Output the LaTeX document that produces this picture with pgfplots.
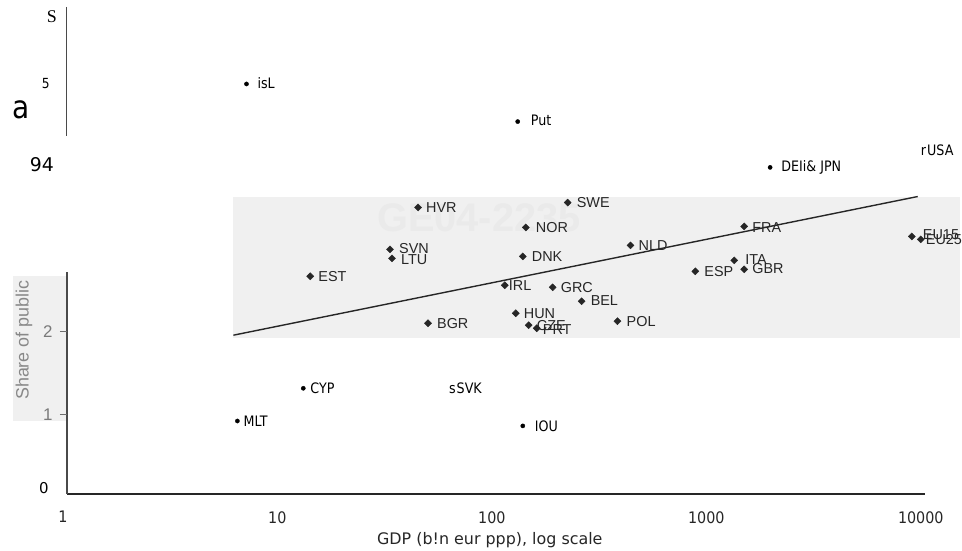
\documentclass[border=0pt]{standalone}
\usepackage{pgfplots}
\pgfplotsset{compat=1.18}
\usepackage{fontspec}
\setmainfont{DejaVu Sans}
\newfontfamily\clean[FakeStretch=0.88]{DejaVu Sans}
\newfontfamily\tickf[FakeStretch=0.9]{DejaVu Sans}
\newfontfamily\scan{Liberation Sans}
\newfontfamily\serif{Liberation Serif}
\definecolor{patch}{HTML}{F0F0F0}
\definecolor{wmark}{HTML}{EAEAEA}
\definecolor{ink}{HTML}{262626}
\definecolor{axgray}{HTML}{4A4A4A}
\definecolor{lbl}{HTML}{888888}
\newcommand\fs[1]{\fontsize{#1}{#1}\selectfont}

\begin{document}
\begin{tikzpicture}[x=1bp,y=1bp]
% pixel frame: (p,q) -> picture
\begin{scope}[shift={(-67,495)},y=-1bp]
\useasboundingbox (0,0) rectangle (962,551);
\fill[patch] (234,197) rectangle (962,339);
\fill[patch] (13,277) rectangle (67,422);
\node[font=\scan\bfseries\fs{40}, text=wmark] at (480,218) {GE04-2235};
\end{scope}

\begin{axis}[at={(0,0)}, anchor=south west, scale only axis,
  width=860bp, height=488bp,
  xmode=log, xmin=1, xmax=10000, ymin=0, ymax=5.951,
  axis x line=bottom, axis y line=none,
  x axis line style={-, line width=1.7bp, color=black!85},
  xtick={1,10,100,1000,10000},
  xticklabels={1,10,100,1000,10000},
  xminorticks=false, major tick length=0,
  xticklabel style={font=\tickf\fs{16}, text=black!85, xshift=-4bp, yshift=-14bp},
  clip=false]
% scanned fit line
\addplot[ink, line width=1.4bp] coordinates {(5.98,1.939) (9272,3.634)};
% scanned countries
\addplot[only marks, mark=square*, mark size=2.5bp, mark options={rotate=45}, ink] coordinates {
(43.4,3.50) (216.3,3.56) (138.0,3.256) (32.1,2.988) (32.8,2.878)
(133.6,2.902) (424.6,3.037) (1439,3.268) (13.64,2.659) (110.1,2.549)
(184.1,2.524) (251.2,2.354) (851.5,2.720) (1293,2.854) (1439,2.744)
(8704,3.146) (9572,3.110) (123.9,2.207) (48.3,2.085) (142.3,2.061)
(155.2,2.024) (369.3,2.110)};
% clean countries
\addplot[only marks, mark=*, mark size=2.1bp, black] coordinates {
(6.88,5.01) (126.5,4.55) (1901,3.99) (12.66,1.29) (6.24,0.89) (133.6,0.83)};
\end{axis}

\begin{scope}[shift={(-67,495)},y=-1bp]
% broken y axis
\draw[axgray, line width=1.3bp] (67,7) -- (67,136);
\draw[axgray, line width=1.5bp] (67,273) -- (67,495);
\draw[lbl!80!black, line width=1bp] (60,332) -- (67,332) (60,416) -- (67,416);
% y labels
\node[font=\serif\fs{18}] at (52,17) {S};
\node[font=\clean\fs{14}] at (46,84) {5};
\node[font=\clean\fs{32}] at (21,110) {a};
\node[font=\fs{19}] at (42,165) {94};
\node[font=\scan\fs{17}, text=lbl!90!black] at (48,332) {2};
\node[font=\scan\fs{17}, text=lbl!90!black] at (48,416) {1};
\node[font=\fs{15}] at (44,489) {0};
\node[font=\scan\fs{18}, text=lbl, rotate=90] at (24,341) {Share of public};
% x label
\node[font=\fs{16}, text=black!85] at (491,541) {GDP (b!n eur ppp), log scale};
% scanned labels
\begin{scope}[every node/.style={anchor=west, inner sep=0, font=\scan\fs{14.5}, text=ink}]
\node at (427,208) {HVR};
\node at (578,203) {SWE};
\node at (537,228) {NOR};
\node at (400,249) {SVN};
\node at (402,260) {LTU};
\node at (533,257) {DNK};
\node at (640,246) {NLD};
\node at (754,228) {FRA};
\node at (319,277) {EST};
\node at (510,286) {IRL};
\node at (562,288) {GRC};
\node at (592,301) {BEL};
\node at (706,272) {ESP};
\node at (747,260) {ITA};
\node at (754,269) {GBR};
\node at (925,235) {EU15};
\node at (928,240) {EU25};
\node at (525,314) {HUN};
\node at (438,324) {BGR};
\node at (538,326) {CZE};
\node at (544,330) {PRT};
\node at (628,322) {POL};
\end{scope}
% clean labels
\begin{scope}[every node/.style={anchor=west, inner sep=0, font=\clean\fs{14.5}, text=black}]
\node at (258,83) {isL};
\node at (532,121) {Put};
\node at (783,168) {DEIi\& JPN};
\node at (923,151) {r\hspace{1bp}USA};
\node at (311,389) {CYP};
\node at (450,389) {s\hspace{1bp}SVK};
\node at (244,422) {MLT};
\node at (536,427) {IOU};
\end{scope}
\end{scope}
\end{tikzpicture}
\end{document}
